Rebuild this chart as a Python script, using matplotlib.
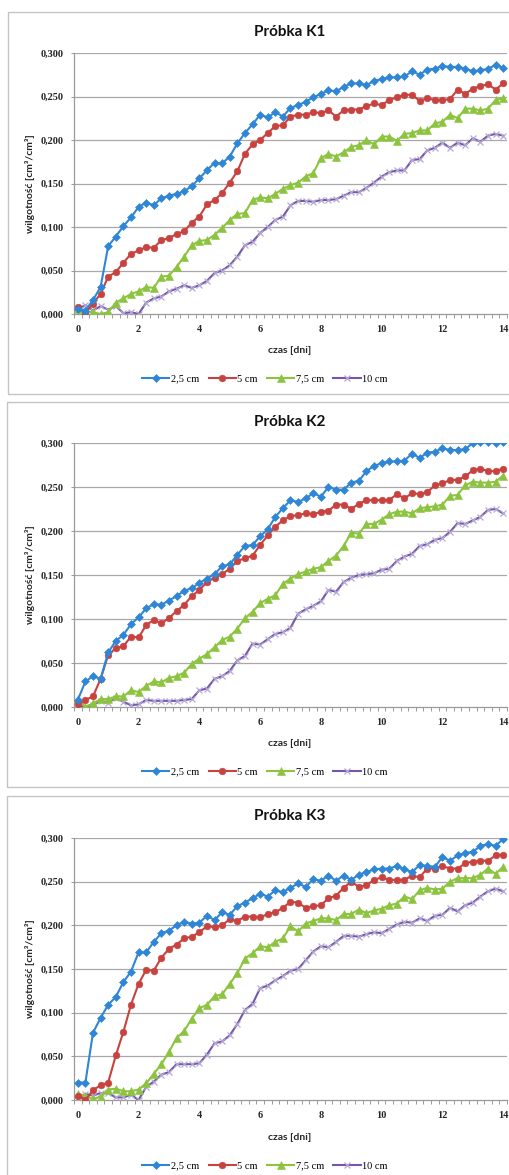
import numpy as np
import matplotlib
matplotlib.use("Agg")
import matplotlib.pyplot as plt
from matplotlib.patches import Rectangle
from matplotlib.ticker import FuncFormatter

# ---------------- data ----------------
days = [i * 0.25 for i in range(57)]
series_labels = ["2,5 cm", "5 cm", "7,5 cm", "10 cm"]
panel_titles = ["Próbka K1", "Próbka K2", "Próbka K3"]
x_tick_values = [0, 2, 4, 6, 8, 10, 12, 14]
y_tick_values = [0.0, 0.05, 0.10, 0.15, 0.20, 0.25, 0.30]
x_label = "czas [dni]"
y_label = "wilgotność [cm³/cm³]"

k1_25 = [0.006, 0.004, 0.016, 0.031, 0.078, 0.089, 0.101, 0.111, 0.123, 0.128,
         0.125, 0.133, 0.136, 0.138, 0.141, 0.147, 0.156, 0.165, 0.174, 0.173,
         0.181, 0.196, 0.208, 0.218, 0.229, 0.226, 0.232, 0.227, 0.237, 0.240,
         0.244, 0.249, 0.253, 0.257, 0.256, 0.261, 0.265, 0.265, 0.263, 0.268,
         0.270, 0.272, 0.272, 0.273, 0.279, 0.275, 0.281, 0.282, 0.285, 0.284,
         0.284, 0.282, 0.279, 0.280, 0.282, 0.286, 0.283]
k1_5 = [0.008, 0.001, 0.012, 0.023, 0.043, 0.048, 0.059, 0.069, 0.073, 0.077,
        0.076, 0.085, 0.087, 0.092, 0.095, 0.105, 0.112, 0.126, 0.131, 0.139,
        0.151, 0.164, 0.184, 0.195, 0.200, 0.208, 0.216, 0.217, 0.227, 0.229,
        0.229, 0.232, 0.231, 0.234, 0.227, 0.234, 0.235, 0.235, 0.239, 0.242,
        0.240, 0.246, 0.249, 0.252, 0.252, 0.245, 0.248, 0.246, 0.246, 0.247,
        0.258, 0.253, 0.259, 0.262, 0.264, 0.258, 0.265]
k1_75 = [0.006, 0.003, 0.002, 0.000, 0.002, 0.013, 0.018, 0.023, 0.026, 0.031,
         0.030, 0.043, 0.044, 0.054, 0.066, 0.079, 0.084, 0.085, 0.091, 0.099,
         0.108, 0.115, 0.116, 0.131, 0.134, 0.133, 0.138, 0.144, 0.148, 0.151,
         0.158, 0.162, 0.179, 0.184, 0.181, 0.186, 0.192, 0.194, 0.200, 0.195,
         0.204, 0.204, 0.199, 0.207, 0.208, 0.211, 0.211, 0.219, 0.221, 0.229,
         0.225, 0.236, 0.236, 0.234, 0.236, 0.246, 0.248]
k1_10 = [0.006, 0.010, 0.004, 0.009, 0.005, 0.009, 0.001, 0.002, 0.000, 0.013,
         0.018, 0.020, 0.026, 0.029, 0.033, 0.030, 0.033, 0.038, 0.047, 0.050,
         0.056, 0.066, 0.079, 0.083, 0.093, 0.100, 0.108, 0.112, 0.125, 0.130,
         0.130, 0.129, 0.131, 0.131, 0.132, 0.136, 0.140, 0.140, 0.145, 0.151,
         0.158, 0.163, 0.165, 0.165, 0.177, 0.178, 0.188, 0.191, 0.197, 0.191,
         0.197, 0.194, 0.202, 0.198, 0.205, 0.207, 0.205]

k2_25 = [0.008, 0.029, 0.035, 0.032, 0.062, 0.075, 0.082, 0.094, 0.102, 0.112,
         0.117, 0.116, 0.121, 0.126, 0.132, 0.135, 0.141, 0.146, 0.151, 0.160,
         0.162, 0.173, 0.183, 0.184, 0.194, 0.202, 0.216, 0.226, 0.235, 0.233,
         0.237, 0.243, 0.239, 0.250, 0.247, 0.247, 0.255, 0.257, 0.268, 0.274,
         0.277, 0.279, 0.279, 0.280, 0.288, 0.283, 0.289, 0.290, 0.294, 0.292,
         0.292, 0.293, 0.300, 0.301, 0.301, 0.300, 0.301]
k2_5 = [0.003, 0.008, 0.012, 0.032, 0.059, 0.067, 0.069, 0.080, 0.079, 0.093,
        0.099, 0.095, 0.101, 0.109, 0.116, 0.126, 0.133, 0.142, 0.147, 0.151,
        0.157, 0.166, 0.169, 0.172, 0.184, 0.195, 0.205, 0.212, 0.217, 0.218,
        0.220, 0.219, 0.222, 0.223, 0.230, 0.230, 0.225, 0.231, 0.235, 0.235,
        0.235, 0.235, 0.242, 0.237, 0.243, 0.242, 0.244, 0.252, 0.254, 0.258,
        0.258, 0.262, 0.269, 0.271, 0.268, 0.268, 0.271]
k2_75 = [0.009, 0.000, 0.004, 0.009, 0.009, 0.012, 0.012, 0.019, 0.017, 0.024,
         0.029, 0.028, 0.033, 0.035, 0.039, 0.049, 0.055, 0.060, 0.068, 0.076,
         0.080, 0.089, 0.101, 0.108, 0.118, 0.123, 0.127, 0.140, 0.146, 0.151,
         0.154, 0.157, 0.159, 0.166, 0.172, 0.183, 0.198, 0.197, 0.208, 0.208,
         0.213, 0.219, 0.222, 0.222, 0.220, 0.226, 0.227, 0.228, 0.230, 0.240,
         0.241, 0.252, 0.256, 0.255, 0.255, 0.256, 0.263]
k2_10 = [0.002, 0.000, 0.002, 0.007, 0.005, 0.010, 0.006, 0.002, 0.003, 0.008,
         0.007, 0.007, 0.007, 0.007, 0.008, 0.009, 0.019, 0.021, 0.032, 0.035,
         0.041, 0.053, 0.058, 0.072, 0.071, 0.077, 0.083, 0.085, 0.090, 0.106,
         0.111, 0.115, 0.120, 0.133, 0.131, 0.142, 0.147, 0.150, 0.151, 0.152,
         0.156, 0.157, 0.166, 0.171, 0.174, 0.183, 0.185, 0.190, 0.192, 0.199,
         0.209, 0.208, 0.212, 0.216, 0.224, 0.225, 0.220]

k3_25 = [0.020, 0.020, 0.077, 0.094, 0.109, 0.118, 0.135, 0.147, 0.169, 0.169,
         0.181, 0.191, 0.194, 0.200, 0.204, 0.202, 0.203, 0.211, 0.206, 0.215,
         0.212, 0.222, 0.226, 0.231, 0.236, 0.233, 0.240, 0.238, 0.243, 0.248,
         0.244, 0.253, 0.251, 0.257, 0.251, 0.257, 0.252, 0.258, 0.261, 0.264,
         0.265, 0.265, 0.268, 0.264, 0.261, 0.269, 0.268, 0.267, 0.278, 0.274,
         0.280, 0.283, 0.284, 0.291, 0.293, 0.291, 0.299]
k3_5 = [0.005, 0.000, 0.011, 0.017, 0.020, 0.051, 0.078, 0.109, 0.133, 0.149,
        0.148, 0.163, 0.173, 0.178, 0.185, 0.187, 0.192, 0.199, 0.198, 0.200,
        0.207, 0.205, 0.210, 0.210, 0.209, 0.213, 0.215, 0.220, 0.227, 0.226,
        0.220, 0.222, 0.223, 0.231, 0.234, 0.243, 0.250, 0.244, 0.246, 0.252,
        0.255, 0.252, 0.252, 0.252, 0.257, 0.255, 0.265, 0.265, 0.268, 0.265,
        0.265, 0.271, 0.273, 0.274, 0.274, 0.280, 0.281]
k3_75 = [0.007, 0.005, 0.001, 0.004, 0.012, 0.013, 0.010, 0.010, 0.012, 0.019,
         0.030, 0.041, 0.055, 0.071, 0.079, 0.093, 0.105, 0.109, 0.119, 0.121,
         0.133, 0.145, 0.162, 0.168, 0.176, 0.175, 0.181, 0.185, 0.199, 0.193,
         0.202, 0.205, 0.208, 0.208, 0.206, 0.213, 0.213, 0.218, 0.214, 0.217,
         0.219, 0.223, 0.225, 0.233, 0.230, 0.240, 0.243, 0.241, 0.242, 0.250,
         0.254, 0.254, 0.254, 0.258, 0.265, 0.259, 0.267]
k3_10 = [0.001, 0.007, 0.005, 0.008, 0.008, 0.003, 0.003, 0.006, 0.000, 0.015,
         0.021, 0.029, 0.032, 0.041, 0.041, 0.041, 0.042, 0.052, 0.065, 0.067,
         0.074, 0.087, 0.103, 0.110, 0.128, 0.131, 0.137, 0.142, 0.148, 0.150,
         0.160, 0.170, 0.176, 0.175, 0.181, 0.188, 0.188, 0.187, 0.190, 0.192,
         0.191, 0.196, 0.201, 0.204, 0.203, 0.208, 0.205, 0.211, 0.212, 0.220,
         0.216, 0.223, 0.226, 0.233, 0.239, 0.242, 0.239]

panels = [
    [k1_25, k1_5, k1_75, k1_10],
    [k2_25, k2_5, k2_75, k2_10],
    [k3_25, k3_5, k3_75, k3_10],
]

# ---------------- style ----------------
W, H = 510, 1175
colors = ["#2f86d6", "#c8423f", "#8cc43f", "#7457a8"]
marker_face = ["#2f86d6", "#c8423f", "#8cc43f", "#b7a9d6"]
markers = ["D", "o", "^", "x"]
msizes = [3.8, 4.8, 5.6, 5.0]
serif = ["Liberation Serif", "DejaVu Serif"]
sans = ["Lato", "DejaVu Sans"]
grid_c = "#a8a8a8"

fig = plt.figure(figsize=(W / 100, H / 100), dpi=100)
fig.patch.set_facecolor("white")

# panel frames (pixels: left, top, bottom)
frames = [(8, 12, 394), (7, 402, 787), (7, 796, 1190)]
# axes boxes (pixels: left, right, top, bottom)
boxes = [(74, 507, 53, 314), (74, 507, 443, 707), (74, 507, 838, 1100)]
title_y = [32, 422, 816]
xlabel_y = [351, 743, 1138]
legend_y = [379, 772, 1166]
ylabel_y = [184, 575, 969]


def fx(px):
    return px / W


def fy(py):
    return 1 - py / H


for p in range(3):
    l, t, b = frames[p]
    fig.patches.append(Rectangle((fx(l), fy(b)), fx(W + 10 - l), fy(t) - fy(b),
                                 transform=fig.transFigure, fill=False,
                                 edgecolor="#c4c4c4", linewidth=1.0, zorder=0))
    al, ar, at, ab = boxes[p]
    ax = fig.add_axes([fx(al), fy(ab), fx(ar - al), fy(at) - fy(ab)])
    ax.set_xlim(-0.125, 14.125)
    ax.set_ylim(0, 0.3)
    for spine in ["top", "right"]:
        ax.spines[spine].set_visible(False)
    for spine in ["left", "bottom"]:
        ax.spines[spine].set_color("#9a9a9a")
        ax.spines[spine].set_linewidth(0.9)
    ax.set_yticks(y_tick_values)
    ax.yaxis.set_major_formatter(FuncFormatter(lambda v, pos: f"{v:.3f}".replace(".", ",")))
    ax.set_xticks(x_tick_values)
    ax.set_xticks([k * 0.25 - 0.125 for k in range(58)], minor=True)
    ax.tick_params(axis="x", which="major", length=0, pad=8, labelsize=7.5)
    ax.tick_params(axis="x", which="minor", length=3, width=0.7, color="#9a9a9a", direction="out")
    ax.tick_params(axis="y", which="major", length=2.5, width=0.7, color="#9a9a9a", pad=5, labelsize=7.5)
    for lab in ax.get_xticklabels() + ax.get_yticklabels():
        lab.set_family(serif)
        lab.set_fontweight("bold")
        lab.set_color("#262626")
    for v in y_tick_values[1:]:
        ax.axhline(v, color=grid_c, linewidth=0.9, zorder=1)

    handles = []
    for s in range(4):
        h, = ax.plot(days, panels[p][s], color=colors[s], linewidth=1.5,
                     marker=markers[s], markersize=msizes[s],
                     markerfacecolor=marker_face[s], markeredgecolor=marker_face[s],
                     markeredgewidth=0.9 if markers[s] == "x" else 0.4,
                     zorder=3 + (3 - s), clip_on=True, label=series_labels[s])
        handles.append(h)

    fig.text(fx(290), fy(title_y[p]), panel_titles[p], ha="center", va="center",
             fontsize=11, fontweight="bold", family=sans, color="#111111")
    fig.text(fx(290), fy(xlabel_y[p]), x_label, ha="center", va="center",
             fontsize=7.5, fontweight="bold", family=sans, color="#262626")
    fig.text(fx(30), fy(ylabel_y[p]), y_label, ha="center", va="center",
             rotation=90, fontsize=7.5, fontweight="bold", family=sans, color="#262626")
    leg = fig.legend(handles=handles, loc="center", ncol=4,
                     bbox_to_anchor=(fx(265), fy(legend_y[p])), frameon=False,
                     prop={"family": serif, "size": 7.5}, handlelength=2.6,
                     handletextpad=0.15, columnspacing=0.9, borderaxespad=0)

fig.savefig("out.png", dpi=100, facecolor="white")
